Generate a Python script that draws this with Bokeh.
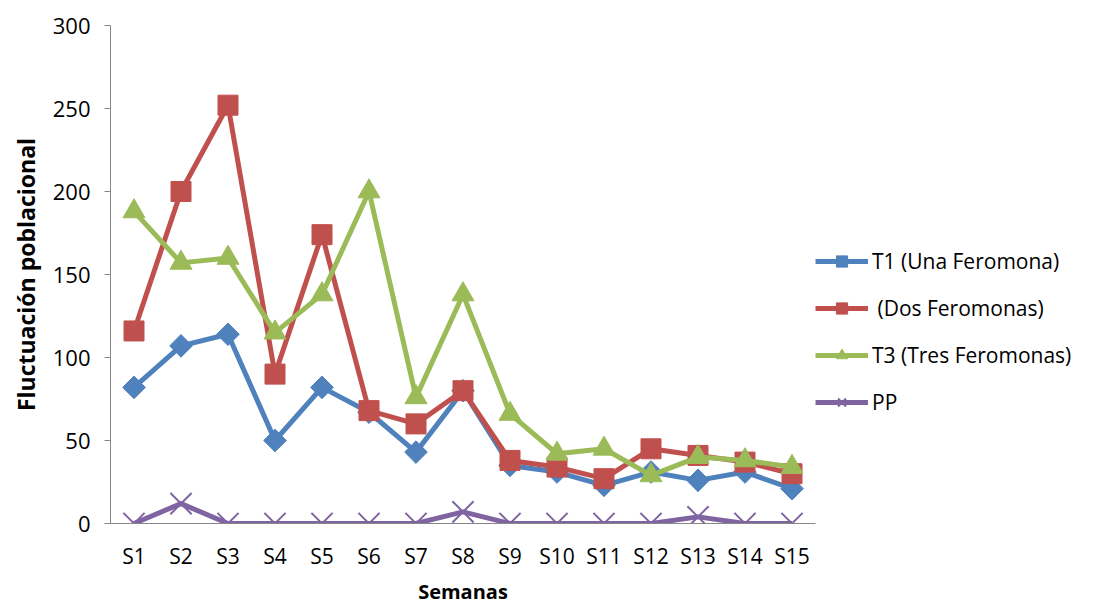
import numpy as np
from bokeh.plotting import figure
from bokeh.models import FactorRange, Legend, LegendItem, FixedTicker
from bokeh.embed import file_html
from bokeh.resources import INLINE

# Weekly population counts per treatment
semanas = ["S1", "S2", "S3", "S4", "S5", "S6", "S7", "S8",
           "S9", "S10", "S11", "S12", "S13", "S14", "S15"]
t1_una = [82, 107, 114, 50, 82, 67, 43, 80, 35, 31, 23, 31, 26, 31, 21]
t2_dos = [116, 200, 252, 90, 174, 68, 60, 80, 38, 34, 27, 45, 41, 37, 30]
t3_tres = [188, 157, 160, 115, 138, 200, 76, 138, 66, 42, 45, 29, 40, 38, 34]
pp = [0, 12, 0, 0, 0, 0, 0, 7, 0, 0, 0, 0, 4, 0, 0]

labels = ["T1 (Una Feromona)", " (Dos Feromonas)", "T3 (Tres Feromonas)", "PP"]
colors = ["#4F81BD", "#C0504D", "#9BBB59", "#8064A2"]

FONT = "Open Sans"

p = figure(
    x_range=FactorRange(*semanas),
    y_range=(0, 300),
    frame_width=705, frame_height=498,
    min_border_left=110, min_border_right=0,
    min_border_top=25, min_border_bottom=84,
    output_backend="svg", toolbar_location=None,
)
p.outline_line_color = None
p.xgrid.grid_line_color = None
p.ygrid.grid_line_color = None
p.background_fill_color = "white"
p.border_fill_color = "white"

series = [
    (t1_una, dict(marker="square", angle=np.pi / 4, size=16)),
    (t2_dos, dict(marker="square", size=20)),
    (t3_tres, dict(marker="triangle", size=22)),
    (pp, dict(marker="x", size=30)),
]

items = []
for (vals, mk), color, lab in zip(series, colors, labels):
    ln = p.line(semanas, vals, line_color=color, line_width=5, line_join="round")
    if mk["marker"] == "x":
        sc = p.scatter(semanas, vals, marker="x", size=mk["size"],
                       line_color=color, line_width=2)
    else:
        sc = p.scatter(semanas, vals, marker=mk["marker"], size=mk["size"],
                       angle=mk.get("angle", 0.0),
                       fill_color=color, line_color=color)
    items.append(LegendItem(label=lab, renderers=[ln, sc]))

legend = Legend(
    items=items, location=(0, 107),
    glyph_width=53, glyph_height=28, label_height=28,
    spacing=19, padding=0, margin=0, label_standoff=4,
    label_text_font=FONT, label_text_font_size="21px",
    label_text_color="#000000",
    background_fill_alpha=0, border_line_color=None,
)
p.add_layout(legend, "right")

# Axes
axis_gray = "#868686"
p.yaxis.ticker = FixedTicker(ticks=[0, 50, 100, 150, 200, 250, 300])
p.yaxis.axis_line_color = axis_gray
p.yaxis.major_tick_line_color = axis_gray
p.yaxis.major_tick_out = 6
p.yaxis.major_tick_in = 0
p.yaxis.minor_tick_line_color = None
p.yaxis.major_label_text_font = FONT
p.yaxis.major_label_text_font_size = "22px"
p.yaxis.major_label_text_color = "#000000"
p.yaxis.major_label_standoff = 14
p.yaxis.axis_label = "Fluctuación poblacional"
p.yaxis.axis_label_text_font = FONT
p.yaxis.axis_label_text_font_style = "bold"
p.yaxis.axis_label_text_font_size = "23px"
p.yaxis.axis_label_text_color = "#000000"
p.yaxis.axis_label_standoff = 8

p.xaxis.axis_line_color = axis_gray
p.xaxis.major_tick_line_color = None
p.xaxis.minor_tick_line_color = None
p.xaxis.major_label_text_font = FONT
p.xaxis.major_label_text_font_size = "21px"
p.xaxis.major_label_text_color = "#000000"
p.xaxis.major_label_standoff = 12
p.xaxis.axis_label = "Semanas"
p.xaxis.axis_label_text_font = FONT
p.xaxis.axis_label_text_font_style = "bold"
p.xaxis.axis_label_text_font_size = "20px"
p.xaxis.axis_label_text_color = "#000000"
p.xaxis.axis_label_standoff = 5

open("out.html", "w").write(file_html(p, INLINE))
